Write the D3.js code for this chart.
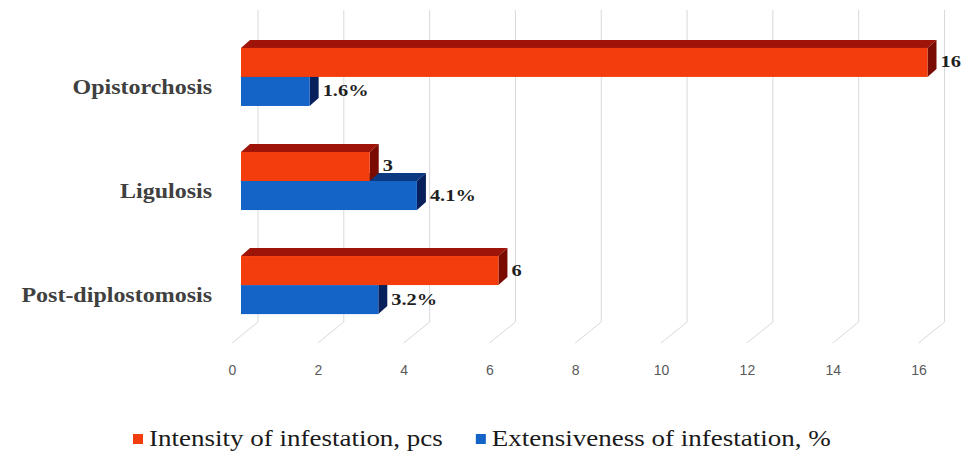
<!DOCTYPE html>
<html>
<head>
<meta charset="utf-8">
<script src="https://cdn.jsdelivr.net/npm/d3@7"></script>
<style>
  html, body { margin: 0; padding: 0; background: #ffffff; }
  svg { display: block; }
  .serif { font-family: "Liberation Serif", "Times New Roman", Tinos, "DejaVu Serif", serif; }
  .sans { font-family: "Liberation Sans", Arial, sans-serif; }
</style>
</head>
<body>
<svg id="chart" width="974" height="457"></svg>
<script>
// ---- data ----
const categories = ["Opistorchosis", "Ligulosis", "Post-diplostomosis"];
const intensity = [16, 3, 6];            // pcs
const extensiveness = [1.6, 4.1, 3.2];   // %
const seriesNames = ["Intensity of infestation, pcs", "Extensiveness of infestation, %"];
const tickValues = [0, 2, 4, 6, 8, 10, 12, 14, 16];

// ---- styling ----
const W = 974, H = 457;
const SX = 1.2;                 // horizontal stretch applied to serif text
const BAR_DX = 9, BAR_DY = -8;  // visible depth of each bar
const WALL_DX = 17;             // back wall offset from bar front
const FLOOR_DX = -9;            // floor front edge offset from bar front
const GRID_TOP = 10, GRID_BACK = 322, GRID_FRONT = 343;
const colors = {
  intensity: { front: "#f43d0c", top: "#9e1408", side: "#7a0b03" },
  extensiveness: { front: "#1463c6", top: "#0c3a82", side: "#08205c" }
};

const svg = d3.select("#chart");
svg.append("rect").attr("width", W).attr("height", H).attr("fill", "#ffffff");

const x = d3.scaleLinear().domain([0, 16]).range([241, 927.5]);
const y = d3.scaleBand().domain(categories).range([25, 337])
  .paddingInner(0.442).paddingOuter(0.22);
const ys = d3.scaleBand().domain(["intensity", "extensiveness"]).range([0, y.bandwidth()]);

// text stretched horizontally around its anchor
function stretchedText(parent, tx, ty, str) {
  return parent.append("g")
    .attr("transform", `translate(${tx},${ty}) scale(${SX},1)`)
    .append("text").text(str);
}

// ---- gridlines: back wall verticals folding onto the floor ----
const grid = svg.append("g");
grid.selectAll("path").data(tickValues).join("path")
  .attr("d", v => `M${x(v) + WALL_DX},${GRID_TOP}V${GRID_BACK}L${x(v) + FLOOR_DX},${GRID_FRONT}`)
  .attr("fill", "none").attr("stroke", "#d9d9d9").attr("stroke-width", 1);

// ---- axis along the floor front edge ----
const xFloor = x.copy().range(x.range().map(r => r + FLOOR_DX));
const axis = svg.append("g").attr("transform", `translate(0,${362})`)
  .call(d3.axisBottom(xFloor).tickValues(tickValues).tickSize(0).tickFormat(d3.format("d")));
axis.select(".domain").remove();
axis.selectAll("text").attr("class", "sans")
  .style("font-size", "14px").style("font-family", null).attr("fill", "#595959");
axis.attr("font-family", null).attr("font-size", null);

// ---- bars ----
function drawBar(g, v, top, h, c) {
  const x0 = x(0), x1 = x(v), y0 = top, y1 = top + h;
  g.append("path")
    .attr("d", `M${x0},${y0}L${x0 + BAR_DX},${y0 + BAR_DY}L${x1 + BAR_DX},${y0 + BAR_DY}L${x1},${y0}Z`)
    .attr("fill", c.top);
  g.append("path")
    .attr("d", `M${x1},${y0}L${x1 + BAR_DX},${y0 + BAR_DY}L${x1 + BAR_DX},${y1 + BAR_DY}L${x1},${y1}Z`)
    .attr("fill", c.side);
  g.append("rect").attr("x", x0).attr("y", y0)
    .attr("width", x1 - x0).attr("height", h).attr("fill", c.front);
}

const rows = categories.map((cat, i) => ({ cat, intensity: intensity[i], extensiveness: extensiveness[i] }));
const barsG = svg.append("g");
rows.forEach(r => {
  const g = barsG.append("g");
  // lower series first so the upper bar covers its top face
  drawBar(g, r.extensiveness, y(r.cat) + ys("extensiveness"), ys.bandwidth(), colors.extensiveness);
  drawBar(g, r.intensity, y(r.cat) + ys("intensity"), ys.bandwidth(), colors.intensity);
});

// ---- value labels ----
const labelsG = svg.append("g").attr("class", "serif")
  .style("font-weight", "bold").style("font-size", "17px").attr("fill", "#1f1f1f");
rows.forEach(r => {
  [["intensity", d3.format("d")(r.intensity)], ["extensiveness", r.extensiveness.toFixed(1) + "%"]]
    .forEach(([key, txt]) => {
      const cy = y(r.cat) + ys(key) + ys.bandwidth() / 2;
      stretchedText(labelsG, x(r[key]) + BAR_DX + 4, cy + 5, txt);
    });
});

// ---- category labels ----
const catG = svg.append("g").attr("class", "serif")
  .style("font-weight", "bold").style("font-size", "20px").attr("fill", "#404040");
categories.forEach(cat => {
  const cy = y(cat) + y.bandwidth() / 2;
  stretchedText(catG, 212, cy + 17, cat).attr("text-anchor", "end");
});

// ---- legend ----
const legend = svg.append("g").attr("class", "serif")
  .style("font-weight", "normal").style("font-size", "22.5px").attr("fill", "#1a1a1a");
const legendColors = [colors.intensity.front, colors.extensiveness.front];
let lx = 133;
seriesNames.forEach((name, i) => {
  legend.append("rect").attr("x", lx).attr("y", 434).attr("width", 10).attr("height", 10)
    .attr("fill", legendColors[i]);
  const t = stretchedText(legend, lx + 16, 446, name);
  lx += 16 + t.node().getComputedTextLength() * SX + 33;
});
</script>
</body>
</html>
